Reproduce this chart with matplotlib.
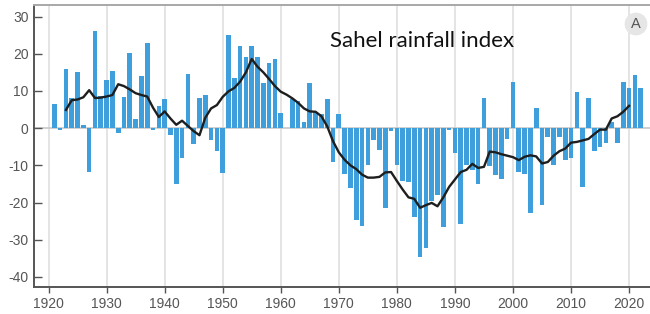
import matplotlib.pyplot as plt
import numpy as np

###############################################################################
# データ (値は図から読み取り)
###############################################################################

bar_years = list(range(1921, 2023))
rain_index = [
    6.5, -0.5, 15.8, 8.0, 15.2, 0.9, -11.8, 26.1, 8.6, 13.0,        # 1921-1930
    15.4, -1.4, 8.5, 20.3, 2.5, 13.9, 22.9, -0.4, 5.9, 7.8,         # 1931-1940
    -1.9, -14.9, -8.0, 14.6, -4.3, 8.1, 8.9, -3.2, -6.2, -12.0,     # 1941-1950
    25.0, 13.5, 22.0, 19.0, 22.0, 19.0, 12.2, 17.5, 18.5, 4.0,      # 1951-1960
    0.0, 7.7, 7.4, 1.7, 12.0, 4.3, 3.9, 7.9, -9.0, 3.8,             # 1961-1970
    -12.4, -16.0, -24.7, -26.3, -10.0, -3.3, -5.9, -21.5, -0.7, -10.0,  # 1971-1980
    -14.3, -14.6, -23.8, -34.7, -32.2, -19.5, -18.0, -26.7, -0.5, -6.8,  # 1981-1990
    -25.7, -9.9, -11.3, -14.9, 8.0, -10.3, -12.6, -13.6, -2.8, 12.3,  # 1991-2000
    -11.7, -12.2, -22.9, 5.3, -20.7, -2.4, -9.9, -2.3, -8.6, -7.9,   # 2001-2010
    9.6, -15.8, 8.2, -6.2, -5.0, -3.9, 1.6, -4.1, 12.3, 10.7,        # 2011-2020
    14.4, 10.9,                                                      # 2021-2022
]

smooth_years = list(range(1923, 2021))
smooth_index = [
    4.9, 7.5, 7.7, 8.3, 10.2, 8.1, 8.2, 8.5,                         # 1923-1930
    8.9, 11.8, 11.3, 10.4, 9.4, 8.9, 8.5, 5.5, 3.0, 4.5,             # 1931-1940
    2.6, 0.9, 2.0, 0.6, -0.8, -1.9, 2.8, 5.3, 6.2, 8.4,              # 1941-1950
    9.9, 10.8, 12.5, 15.0, 18.6, 16.5, 15.0, 13.2, 11.3, 9.8,        # 1951-1960
    9.0, 8.0, 6.8, 5.3, 4.5, 4.4, 3.2, 0.5, -3.5, -6.5,              # 1961-1970
    -8.5, -10.0, -11.0, -12.5, -13.3, -13.3, -13.1, -11.9, -11.8, -14.2,  # 1971-1980
    -16.5, -18.6, -19.0, -21.4, -20.7, -20.1, -21.0, -18.6, -15.8, -13.8,  # 1981-1990
    -11.8, -11.2, -9.6, -10.7, -10.4, -6.3, -6.5, -7.0, -7.4, -7.8,   # 1991-2000
    -8.6, -7.7, -7.3, -7.6, -9.5, -9.1, -7.4, -6.2, -5.5, -3.9,      # 2001-2010
    -3.7, -3.3, -2.9, -1.6, -0.4, -0.4, 2.6, 3.2, 4.4, 6.0,          # 2011-2020
]

x_ticks = list(range(1920, 2030, 10))
y_ticks = list(range(-40, 40, 10))

###############################################################################
# 描画
###############################################################################

plt.rcParams["font.family"] = ["Liberation Sans", "DejaVu Sans"]
plt.rcParams["axes.unicode_minus"] = False

fig = plt.figure(figsize=(6.5, 3.14), dpi=100)
ax = fig.add_axes([34 / 650, 27 / 314, 1 - 34 / 650, 282 / 314])

# 背景グリッド (10年ごとの縦線 + ゼロ線)
for x in x_ticks:
    ax.axvline(x, color="#e2e2e2", linewidth=1.3, zorder=0)
ax.axhline(0, color="#c8c8c8", linewidth=1.2, zorder=0)

# 年ごとの棒と平滑化線
ax.bar(bar_years, rain_index, width=0.8, color="#3f9fdc", zorder=2)
ax.plot(smooth_years, smooth_index, color="#1e1e1e", linewidth=1.7, zorder=3)

ax.set_xlim(1917.5, 2023.6)
ax.set_ylim(-42.7, 33.1)
ax.set_xticks(x_ticks)
ax.set_yticks(y_ticks)

ax.tick_params(axis="x", direction="out", length=4, width=1.0, color="#555555",
               labelsize=10, labelcolor="#555555", pad=3)
ax.tick_params(axis="y", direction="in", length=6, width=1.0, color="#555555",
               labelsize=10, labelcolor="#555555", pad=4)

for side in ("left", "bottom"):
    ax.spines[side].set_color("#555555")
    ax.spines[side].set_linewidth(1.4)
ax.spines["top"].set_color("#a8a8a8")
ax.spines["top"].set_linewidth(1.4)
ax.spines["right"].set_visible(False)

# タイトルとバッジ
fig.text(330 / 650, (314 - 47) / 314, "Sahel rainfall index", fontsize=16,
         family=["Lato", "DejaVu Sans"], color="#111111", va="baseline", ha="left")
fig.text(636 / 650, (314 - 24) / 314, "A", fontsize=10.5, color="#555555",
         ha="center", va="center",
         bbox=dict(boxstyle="circle,pad=0.3", facecolor="#e6e6e6", edgecolor="none"))

fig.savefig("out.png", dpi=100)
